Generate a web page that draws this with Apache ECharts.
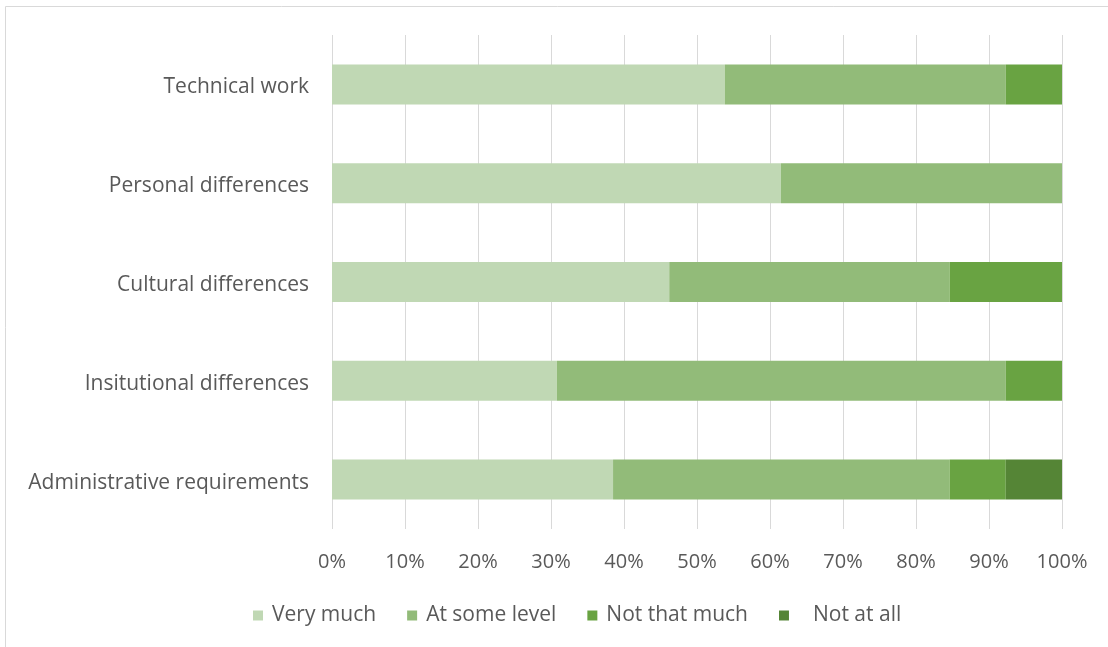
<!DOCTYPE html>
<html>
<head>
<meta charset="utf-8">
<script src="https://cdn.jsdelivr.net/npm/echarts@6/dist/echarts.min.js"></script>
<style>
  html, body { margin: 0; padding: 0; background: #fff; }
  #chart { width: 1108px; height: 647px; }
</style>
</head>
<body>
<div id="chart"></div>
<script>
// Categories listed bottom-to-top (category axis starts at the bottom)
const categories = [
  'Administrative requirements',
  'Insitutional differences',
  'Cultural differences',
  'Personal differences',
  'Technical work'
];
const seriesNames = ['Very much', 'At some level', 'Not that much', 'Not at all'];
// Share of responses, percent
const veryMuch    = [38.5, 30.8, 46.2, 61.5, 53.8];
const atSomeLevel = [46.1, 61.5, 38.4, 38.5, 38.5];
const notThatMuch = [7.7, 7.7, 15.4, 0, 7.7];
const notAtAll    = [7.7, 0, 0, 0, 0];
const xTicks = [0, 10, 20, 30, 40, 50, 60, 70, 80, 90, 100];

const colors = ['#C0D8B4', '#92BB79', '#69A342', '#558536'];
const values = [veryMuch, atSomeLevel, notThatMuch, notAtAll];
const fontFamily = '"Open Sans", Lato, sans-serif';

const chart = echarts.init(document.getElementById('chart'));
chart.setOption({
  animation: false,
  textStyle: { fontFamily: fontFamily },
  graphic: [{
    type: 'rect',
    shape: { x: 5.5, y: 6.5, width: 1300, height: 1000 },
    style: { fill: 'none', stroke: '#D9D9D9', lineWidth: 1 },
    silent: true
  }],
  legend: {
    bottom: 16,
    left: 248,
    itemWidth: 10,
    itemHeight: 10,
    itemGap: 31,
    icon: 'rect',
    textStyle: { color: '#595959', fontSize: 21, fontFamily: fontFamily, padding: [0, 0, 0, 4] },
    // the last entry sits a little further from its swatch
    data: seriesNames.map((name, i) => i === seriesNames.length - 1
      ? { name: name, textStyle: { padding: [0, 0, 0, 19] } }
      : name)
  },
  grid: { left: 332, right: 46, top: 35, bottom: 118, containLabel: false },
  xAxis: {
    type: 'value',
    min: xTicks[0],
    max: xTicks[xTicks.length - 1],
    interval: 10,
    axisLine: { show: false },
    axisTick: { show: false },
    splitLine: { lineStyle: { color: '#D9D9D9', width: 1 } },
    axisLabel: {
      formatter: '{value}%',
      color: '#595959',
      fontSize: 20,
      margin: 23,
      fontFamily: fontFamily
    }
  },
  yAxis: {
    type: 'category',
    data: categories,
    axisLine: { show: false },
    axisTick: { show: false },
    axisLabel: {
      color: '#595959', fontSize: 21, margin: 23, fontFamily: fontFamily,
      formatter: (v) => '{c|' + v + '}',
      rich: {
        c: { color: '#595959', fontSize: 21, fontFamily: fontFamily, padding: [6, 0, 0, 0] }
      }
    }
  },
  series: seriesNames.map((name, i) => ({
    name: name,
    type: 'bar',
    stack: 'total',
    barWidth: 40,
    itemStyle: { color: colors[i] },
    data: values[i]
  }))
});
</script>
</body>
</html>
